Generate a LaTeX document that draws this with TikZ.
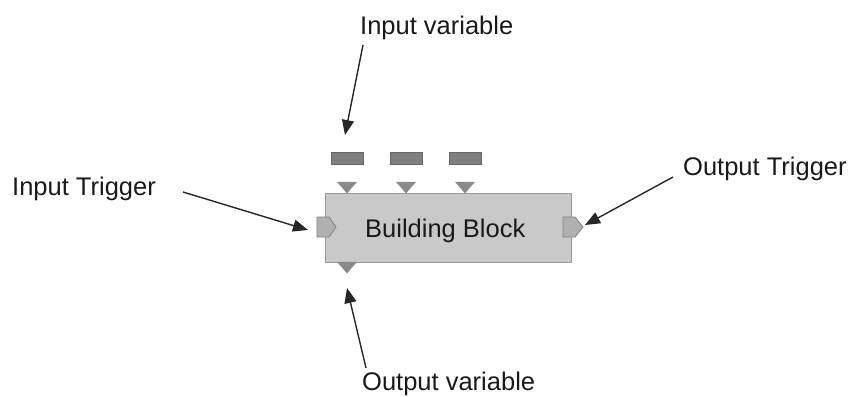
\documentclass[tikz,border=0pt]{standalone}
\usepackage{fontspec}
\setmainfont{Liberation Sans}
\usetikzlibrary{arrows.meta}
\definecolor{boxfill}{HTML}{C9C9C9}
\definecolor{boxedge}{HTML}{999999}
\definecolor{portfill}{HTML}{B0B0B0}
\definecolor{portedge}{HTML}{808080}
\definecolor{barfill}{HTML}{7F7F7F}
\definecolor{baredge}{HTML}{666666}
\definecolor{trifill}{HTML}{8A8A8A}
\begin{document}
\begin{tikzpicture}[x=1pt,y=-1pt,
  lbl/.style={inner sep=0pt, anchor=base west, font=\fontsize{25.5}{30}\selectfont, text=black!90},
  arr/.style={line width=1.4pt, draw=black!85, -{Triangle[length=15pt,width=12pt]}},
  varbar/.style={draw=baredge, fill=barfill, line width=0.8pt, minimum width=32pt, minimum height=12pt, inner sep=0pt},
  tri/.style={fill=trifill, draw=trifill, line width=0.5pt},
  port/.style={fill=portfill, draw=portedge, line width=0.8pt},
  block/.style={draw=boxedge, fill=boxfill, line width=1pt, minimum width=246pt, minimum height=69pt, inner sep=0pt}
]
\useasboundingbox (0,0) rectangle (853,396);
% main block
\node[block] (bb) at (448,227.5) {};
\node[lbl] (bbtext) at (365,237) {Building Block};
% input variable bars
\node[varbar] (bar1) at (347,158) {};
\node[varbar] (bar2) at (406,158) {};
\node[varbar] (bar3) at (465,158) {};
% input variable triangles
\foreach \cx in {347,406,465}{
  \draw[tri] (\cx-9.5,182) -- (\cx+9.5,182) -- (\cx,193) -- cycle;
}
% output variable triangle
\draw[tri] (337.5,262) -- (356.5,262) -- (347,273) -- cycle;
% trigger ports
\draw[port] (317,217) -- (329,217) -- (336,227) -- (329,237) -- (317,237) -- cycle;
\draw[port] (563,217) -- (575,217) -- (583,227) -- (575,237) -- (563,237) -- cycle;
% labels
\node[lbl] (ivlbl) at (360,35) {Input variable};
\node[lbl] (itlbl) at (12,195) {Input Trigger};
\node[lbl] (otlbl) at (683,175) {Output Trigger};
\node[lbl] (ovlbl) at (362,390) {Output variable};
% arrow end points
\coordinate (ivs) at (363,45);
\coordinate (ive) at (345,135);
\coordinate (its) at (183,192);
\coordinate (ite) at (308,230);
\coordinate (ots) at (673,177);
\coordinate (ote) at (585,225);
\coordinate (ovs) at (366,368);
\coordinate (ove) at (347,288);
\draw[arr] (ivs) -- (ive);
\draw[arr] (its) -- (ite);
\draw[arr] (ots) -- (ote);
\draw[arr] (ovs) -- (ove);
\end{tikzpicture}
\end{document}
